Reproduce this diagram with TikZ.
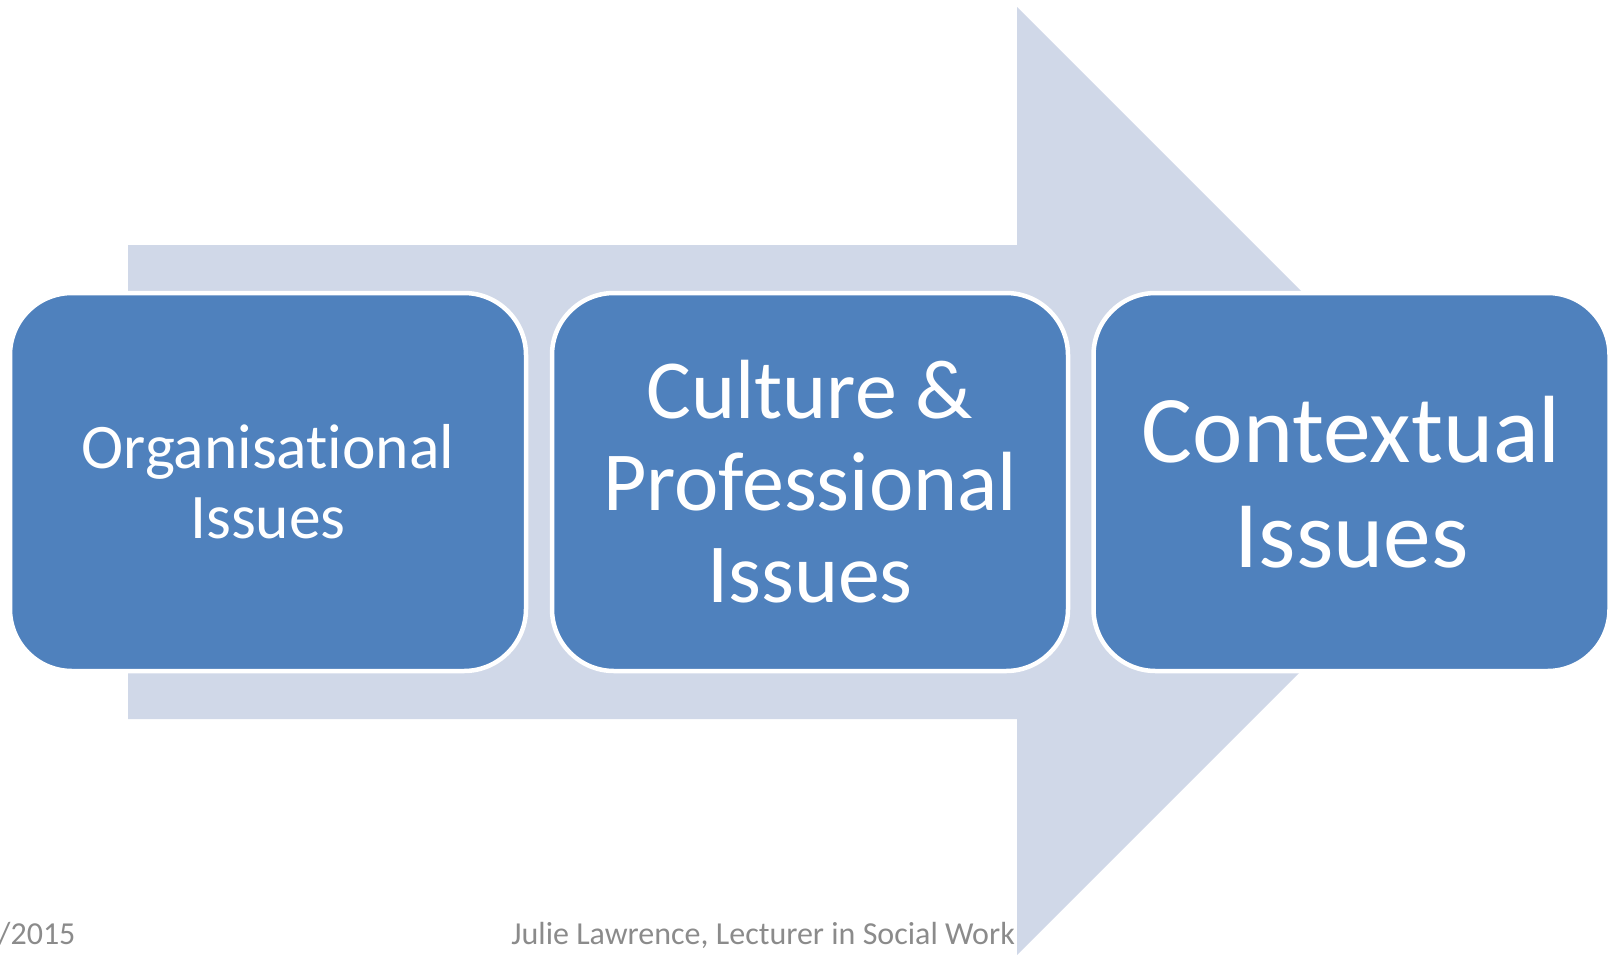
\documentclass[tikz,border=0pt]{standalone}
\usepackage{fontspec}
\setmainfont{Carlito}[Ligatures={NoCommon}]
\definecolor{boxblue}{HTML}{4F81BD}
\definecolor{arrowfill}{HTML}{D0D8E8}
\definecolor{footgray}{HTML}{8B8B8B}
\tikzset{
  issuebox/.style={draw=white, line width=4.5pt, fill=boxblue, rounded corners=62pt,
    minimum width=516pt, minimum height=378pt, inner sep=0pt, align=center,
    text=white, font=\fontsize{63.5}{70}\selectfont},
  footer/.style={text=footgray, font=\fontsize{32}{38}\selectfont, inner sep=0pt}
}
\begin{document}
\begin{tikzpicture}[x=1pt, y=-1pt]
\useasboundingbox (0,0) rectangle (1612,954);
\fill[arrowfill] (128,245) -- (1017,245) -- (1017,7) -- (1491,481) -- (1017,955)
  -- (1017,719) -- (128,719) -- cycle;
\node[issuebox] (org) at (268,482) {Organisational\\Issues};
\node[issuebox, font=\fontsize{84}{92}\selectfont] (cult) at (810,482) {Culture \&\\Professional\\Issues};
\node[issuebox, font=\fontsize{95.5}{105}\selectfont] (ctx) at (1351.5,482) {Contextual\\Issues};
\node[footer, anchor=base west] (date) at (-2,944) {/2015};
\node[footer, anchor=base east] (author) at (1015,944) {Julie Lawrence, Lecturer in Social Work};
\end{tikzpicture}
\end{document}
